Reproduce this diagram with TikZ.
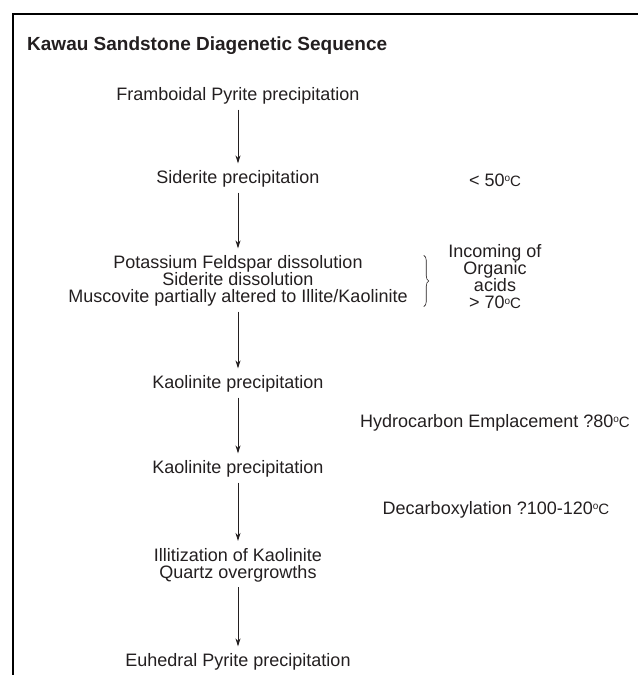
\documentclass[tikz,border=0pt]{standalone}
\usepackage{fontspec}
\setmainfont{Liberation Sans}
\usepackage{tikz}
\usetikzlibrary{arrows.meta,decorations.pathreplacing}
\definecolor{inkBlack}{HTML}{231F20}
\newcommand{\degC}{\raisebox{0.5ex}{\fontsize{10}{10}\selectfont o}{\fontsize{15}{15}\selectfont C}}

\begin{document}
\begin{tikzpicture}[x=1pt,y=-1pt,
  stage/.style={inner sep=0pt,align=center,text=inkBlack,font=\fontsize{18}{17}\selectfont},
  flow/.style={inkBlack,line width=1pt,-{Stealth[length=8pt,width=5pt]},shorten <=5pt,shorten >=7pt}]
\useasboundingbox (0,0) rectangle (638,675);
\draw[line width=2.5pt] (13,675)--(13,14)--(638,14); % frame
\node[anchor=west,inner sep=0pt,text=inkBlack,font=\bfseries\fontsize{19}{19}\selectfont] (title) at (27,46) {Kawau Sandstone Diagenetic Sequence};
% sequence
\node[stage] (s1) at (238,96) {Framboidal Pyrite precipitation};
\node[stage] (s2) at (238,179) {Siderite precipitation};
\node[stage] (s3) at (238,281) {Potassium Feldspar dissolution\\Siderite dissolution\\Muscovite partially altered to Illite/Kaolinite};
\node[stage] (s4) at (238,384) {Kaolinite precipitation};
\node[stage] (s5) at (238,469) {Kaolinite precipitation};
\node[stage] (s6) at (238,565) {Illitization of Kaolinite\\Quartz overgrowths};
\node[stage] (s7) at (238,662) {Euhedral Pyrite precipitation};
\foreach \a/\b in {s1/s2,s2/s3,s3/s4,s4/s5,s5/s6,s6/s7} \draw[flow] (\a)--(\b);
% conditions
\node[stage] (t1) at (495,180) {< 50\degC};
\node[stage] (t2) at (495,277) {Incoming of\\Organic\\acids\\> 70\degC};
\node[stage] (t3) at (495,423) {Hydrocarbon Emplacement ?80\degC};
\node[stage] (t4) at (496,510) {Decarboxylation ?100-120\degC};
\draw[inkBlack,line width=0.6pt,decorate,decoration={brace,amplitude=5pt}] ([xshift=16pt]s3.north east)--([xshift=16pt]s3.south east);
\end{tikzpicture}
\end{document}
